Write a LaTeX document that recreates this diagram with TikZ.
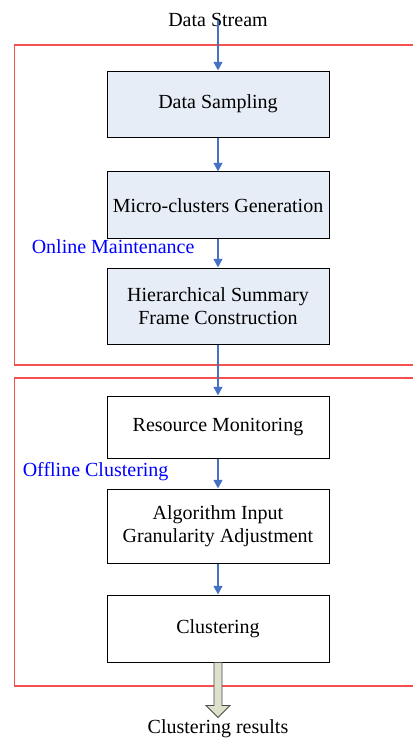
\documentclass[tikz,border=0pt]{standalone}
\usepackage{fontspec}
\setmainfont{Liberation Serif}
\usetikzlibrary{arrows.meta}
\definecolor{boxblue}{RGB}{231,237,246}
\definecolor{flowblue}{RGB}{68,114,196}
\definecolor{framered}{RGB}{245,80,80}
\definecolor{outarrow}{RGB}{221,224,203}
\begin{document}
\begin{tikzpicture}[
  x=0.75pt, y=-0.75pt,
  stepbox/.style={rectangle, draw, line width=0.75pt, minimum width=166.5pt, align=center},
  online/.style={stepbox, fill=boxblue},
  offline/.style={stepbox, fill=white},
  flow/.style={-{Triangle[width=6.5pt,length=6.5pt]}, draw=flowblue, fill=flowblue, line width=2pt},
  frame/.style={draw=framered, line width=0.9pt},
  tag/.style={anchor=west, text=blue, inner sep=0pt},
  font=\fontsize{15}{17.5}\selectfont
]
\useasboundingbox (0,0) rectangle (413,740);

% the two stages
\draw[frame] (413,45) -- (14.5,45) -- (14.5,365) -- (413,365);
\draw[frame] (413,378) -- (14.5,378) -- (14.5,686) -- (413,686);

\node (stream) at (218,20) {Data Stream};
\node[online, minimum height=49.5pt] (sampling) at (218,104) {Data Sampling};
\node[online, minimum height=50.25pt, below of=sampling, node distance=76.1pt] (micro) {Micro-clusters Generation};
\node[online, minimum height=57pt, below of=micro, node distance=75.4pt] (summary) {Hierarchical Summary\\Frame Construction};
\node[offline, minimum height=46.5pt, below of=summary, node distance=90.75pt] (monitor) {Resource Monitoring};
\node[offline, minimum height=55.5pt, below of=monitor, node distance=74.25pt] (adjust) {Algorithm Input\\Granularity Adjustment};
\node[offline, minimum height=50.25pt, below of=adjust, node distance=76.9pt] (cluster) {Clustering};

\node[tag] (onlinetag) at (31.5,247) {Online Maintenance};
\node[tag] (offlinetag) at (22.5,471.5) {Offline Clustering};

\node (results) at (218,729) {Clustering results};

\draw[flow] (stream.center) -- (sampling);
\draw[flow] (sampling) -- (micro);
\draw[flow] (micro) -- (summary);
\draw[flow] (summary) -- (monitor);
\draw[flow] (monitor) -- (adjust);
\draw[flow] (adjust) -- (cluster);

% output arrow
\draw[draw=black!70, fill=outarrow, line width=0.6pt] (cluster.south) ++(-3pt,0) -- ++(0,-32.25pt) -- ++(-6pt,0) -- ++(9pt,-9pt) -- ++(9pt,9pt) -- ++(-6pt,0) -- ++(0,32.25pt) -- cycle;
\end{tikzpicture}
\end{document}
